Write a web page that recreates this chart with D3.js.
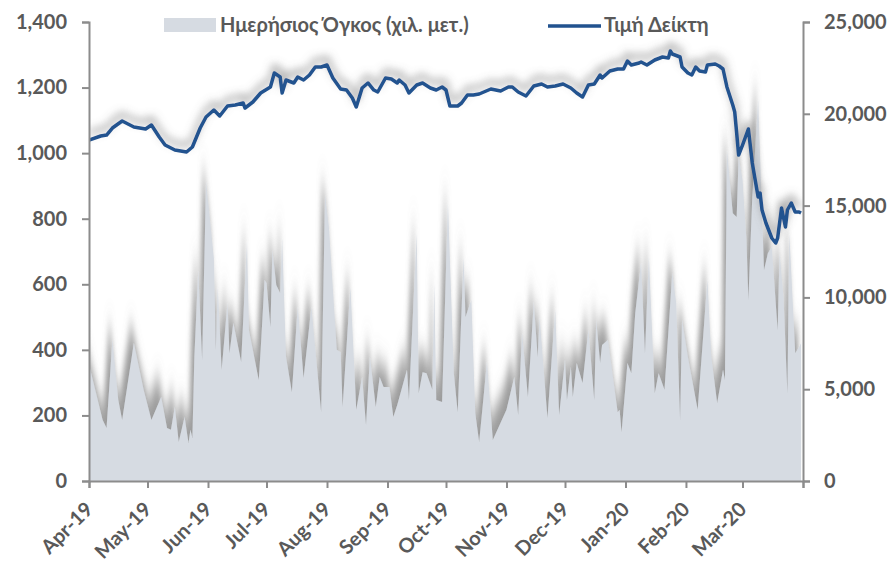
<!DOCTYPE html>
<html><head><meta charset="utf-8">
<script src="https://cdnjs.cloudflare.com/ajax/libs/d3/7.8.5/d3.min.js"></script>
<style>
html,body{margin:0;padding:0;background:#fff;}
svg{display:block;font-family:Lato,"Open Sans",sans-serif;}
</style></head><body>
<svg id="chart" width="892" height="564"></svg>
<script>
// ---- data ----
const seriesNames = ["Ημερήσιος Όγκος (χιλ. μετ.)", "Τιμή Δείκτη"];
const monthTicks = ["2019-04-01","2019-05-01","2019-06-01","2019-07-01","2019-08-01","2019-09-01","2019-10-01","2019-11-01","2019-12-01","2020-01-01","2020-02-01","2020-03-01","2020-04-01"];
const leftTicks = [0,200,400,600,800,1000,1200,1400];
const rightTicks = [0,5000,10000,15000,20000,25000];

const indexDates = ["2019-04-01","2019-04-07","2019-04-10","2019-04-13","2019-04-18","2019-04-24","2019-04-30","2019-05-03","2019-05-07","2019-05-10","2019-05-15","2019-05-21","2019-05-24","2019-05-28","2019-05-31","2019-06-04","2019-06-07","2019-06-11","2019-06-15","2019-06-19","2019-06-20","2019-06-24","2019-06-28","2019-07-03","2019-07-05","2019-07-08","2019-07-09","2019-07-11","2019-07-15","2019-07-17","2019-07-20","2019-07-23","2019-07-26","2019-07-29","2019-08-01","2019-08-04","2019-08-08","2019-08-11","2019-08-14","2019-08-16","2019-08-19","2019-08-22","2019-08-25","2019-08-27","2019-08-31","2019-09-03","2019-09-06","2019-09-07","2019-09-10","2019-09-12","2019-09-16","2019-09-19","2019-09-23","2019-09-26","2019-09-29","2019-10-01","2019-10-03","2019-10-07","2019-10-09","2019-10-12","2019-10-15","2019-10-18","2019-10-24","2019-10-29","2019-11-02","2019-11-04","2019-11-07","2019-11-11","2019-11-15","2019-11-19","2019-11-22","2019-11-26","2019-11-30","2019-12-04","2019-12-07","2019-12-10","2019-12-13","2019-12-16","2019-12-19","2019-12-20","2019-12-24","2019-12-28","2019-12-31","2020-01-02","2020-01-04","2020-01-08","2020-01-09","2020-01-12","2020-01-16","2020-01-20","2020-01-23","2020-01-24","2020-01-25","2020-01-29","2020-01-30","2020-02-02","2020-02-04","2020-02-06","2020-02-08","2020-02-11","2020-02-12","2020-02-16","2020-02-18","2020-02-20","2020-02-22","2020-02-25","2020-02-26","2020-02-27","2020-02-28","2020-03-01","2020-03-04","2020-03-06","2020-03-09","2020-03-10","2020-03-11","2020-03-13","2020-03-16","2020-03-18","2020-03-19","2020-03-21","2020-03-23","2020-03-24","2020-03-26","2020-03-28","2020-03-30","2020-03-31"];
const indexValues = [18570,18790,18845,19226,19608,19281,19172,19390,18736,18300,18028,17919,18192,19226,19826,20207,19880,20425,20479,20588,20316,20643,21133,21460,22222,22004,21133,21841,21678,22004,21841,22113,22549,22549,22658,21950,21350,21296,20860,20370,21405,21678,21296,21187,21950,21895,21678,21841,21569,21133,21569,21678,21405,21296,21460,21296,20425,20425,20588,21024,21024,21078,21350,21242,21460,21460,21187,20970,21514,21623,21460,21514,21623,21405,21133,20915,21569,21623,22113,21950,22331,22440,22440,22876,22658,22767,22821,22658,22930,23094,23039,23420,23257,23094,22549,22222,22113,22549,22331,22277,22658,22712,22603,22440,21460,20479,20098,18954,17756,18300,19172,17320,15468,15686,14760,14052,13235,12963,13235,14869,13834,14760,15142,14651,14651,14597];

const volumeDates = ["2019-04-01","2019-04-08","2019-04-10","2019-04-13","2019-04-16","2019-04-18","2019-04-24","2019-04-29","2019-05-03","2019-05-08","2019-05-11","2019-05-13","2019-05-15","2019-05-17","2019-05-20","2019-05-22","2019-05-23","2019-05-24","2019-05-25","2019-05-27","2019-05-29","2019-05-31","2019-06-04","2019-06-05","2019-06-06","2019-06-08","2019-06-11","2019-06-12","2019-06-14","2019-06-18","2019-06-21","2019-06-22","2019-06-27","2019-06-28","2019-06-30","2019-07-01","2019-07-03","2019-07-04","2019-07-06","2019-07-08","2019-07-09","2019-07-11","2019-07-14","2019-07-17","2019-07-20","2019-07-24","2019-07-29","2019-07-31","2019-08-02","2019-08-06","2019-08-08","2019-08-09","2019-08-13","2019-08-16","2019-08-19","2019-08-21","2019-08-23","2019-08-26","2019-08-28","2019-08-30","2019-09-02","2019-09-04","2019-09-06","2019-09-11","2019-09-12","2019-09-16","2019-09-17","2019-09-19","2019-09-21","2019-09-24","2019-09-25","2019-09-26","2019-09-29","2019-10-02","2019-10-05","2019-10-07","2019-10-10","2019-10-11","2019-10-14","2019-10-16","2019-10-18","2019-10-22","2019-10-25","2019-11-01","2019-11-05","2019-11-07","2019-11-09","2019-11-12","2019-11-15","2019-11-17","2019-11-18","2019-11-22","2019-11-26","2019-11-28","2019-12-01","2019-12-02","2019-12-04","2019-12-05","2019-12-07","2019-12-10","2019-12-13","2019-12-16","2019-12-17","2019-12-19","2019-12-20","2019-12-23","2019-12-28","2019-12-29","2019-12-30","2020-01-02","2020-01-04","2020-01-06","2020-01-09","2020-01-11","2020-01-13","2020-01-16","2020-01-18","2020-01-21","2020-01-25","2020-01-27","2020-01-29","2020-01-30","2020-02-02","2020-02-07","2020-02-12","2020-02-14","2020-02-17","2020-02-20","2020-02-21","2020-02-22","2020-02-25","2020-02-27","2020-02-28","2020-03-01","2020-03-03","2020-03-04","2020-03-06","2020-03-09","2020-03-11","2020-03-12","2020-03-14","2020-03-16","2020-03-19","2020-03-20","2020-03-22","2020-03-24","2020-03-25","2020-03-28","2020-03-30","2020-03-31"];
const volumeValues = [355,186,162,430,247,186,421,278,186,256,162,156,226,119,195,116,156,131,378,643,369,912,680,400,592,339,543,390,482,363,729,460,308,400,613,604,470,704,598,573,741,378,271,531,314,531,210,872,772,400,393,226,592,217,317,171,378,226,317,287,287,195,232,339,247,756,268,332,329,278,604,247,241,848,329,210,683,500,552,207,119,363,125,217,317,201,451,256,546,378,497,192,521,201,369,247,348,256,360,299,460,247,491,360,415,430,210,217,149,360,329,512,665,390,683,268,329,278,634,543,186,491,378,217,613,378,238,339,308,1009,817,805,988,918,735,552,866,1162,817,643,695,714,460,695,561,268,756,390,409,421];

// ---- chart ----
const W = 892, H = 564;
const m = {left: 89, right: 89, top: 22, bottom: 83};
const svg = d3.select("#chart");
const parse = d3.timeParse("%Y-%m-%d");

const x = d3.scaleTime().domain([parse(monthTicks[0]), parse(monthTicks[monthTicks.length-1])]).range([m.left, W - m.right]);
const yL = d3.scaleLinear().domain([0, 1400]).range([H - m.bottom, m.top]);
const yR = d3.scaleLinear().domain([0, 25000]).range([H - m.bottom, m.top]);

const defs = svg.append("defs");
const fa = defs.append("filter").attr("id","areaShadow").attr("x","-5%").attr("y","-40%").attr("width","110%").attr("height","150%");
fa.append("feGaussianBlur").attr("in","SourceAlpha").attr("stdDeviation","2.5 12").attr("result","b");
fa.append("feOffset").attr("in","b").attr("dx",-3).attr("dy",-20).attr("result","o");
fa.append("feFlood").attr("flood-color","#7a7a7a").attr("flood-opacity",0.75);
fa.append("feComposite").attr("in2","o").attr("operator","in").attr("result","s");
const fam = fa.append("feMerge"); fam.append("feMergeNode").attr("in","s"); fam.append("feMergeNode").attr("in","SourceGraphic");

const fl = defs.append("filter").attr("id","lineShadow").attr("x","-5%").attr("y","-30%").attr("width","110%").attr("height","160%");
fl.append("feGaussianBlur").attr("in","SourceAlpha").attr("stdDeviation","4").attr("result","b");
fl.append("feOffset").attr("in","b").attr("dx",0).attr("dy",-7).attr("result","o");
fl.append("feFlood").attr("flood-color","#707070").attr("flood-opacity",0.75);
fl.append("feComposite").attr("in2","o").attr("operator","in").attr("result","s");
const flm = fl.append("feMerge"); flm.append("feMergeNode").attr("in","s"); flm.append("feMergeNode").attr("in","SourceGraphic");

defs.append("clipPath").attr("id","plotClip").append("rect")
  .attr("x", m.left).attr("y", 0).attr("width", W - m.left - m.right).attr("height", H - m.bottom);

const vol = volumeDates.map((d,i)=>({d:parse(d), v:volumeValues[i]}));
const idx = indexDates.map((d,i)=>({d:parse(d), v:indexValues[i]}));

const g = svg.append("g").attr("clip-path","url(#plotClip)");
g.append("path").datum(vol)
  .attr("d", d3.area().x(d=>x(d.d)).y0(yL(0)).y1(d=>yL(d.v)))
  .attr("fill","#d6dbe2").attr("filter","url(#areaShadow)");

g.append("path").datum(idx)
  .attr("d", d3.line().x(d=>x(d.d)).y(d=>yR(d.v)))
  .attr("fill","none").attr("stroke","#21528f").attr("stroke-width",3.5)
  .attr("stroke-linejoin","round").attr("filter","url(#lineShadow)");

const axisColor = "#8c8c8c", textColor = "#595959";
function styleAxis(sel){
  sel.select(".domain").attr("stroke",axisColor).attr("stroke-width",2);
  sel.selectAll(".tick line").attr("stroke",axisColor).attr("stroke-width",2);
  sel.selectAll(".tick text").attr("fill",textColor).attr("font-size","20px").attr("font-weight","bold").attr("font-family","Lato, 'Open Sans', sans-serif");
}

const axL = svg.append("g").attr("transform",`translate(${m.left},0)`)
  .call(d3.axisLeft(yL).tickValues(leftTicks).tickFormat(d3.format(",")).tickSizeOuter(0).tickSize(7).tickPadding(15));
styleAxis(axL);

const axR = svg.append("g").attr("transform",`translate(${W-m.right},0)`)
  .call(d3.axisRight(yR).tickValues(rightTicks).tickFormat(d3.format(",")).tickSizeOuter(0).tickSize(7).tickPadding(14));
styleAxis(axR);

const fmt = d3.timeFormat("%b-%y");
const axB = svg.append("g").attr("transform",`translate(0,${H-m.bottom})`)
  .call(d3.axisBottom(x).tickValues(monthTicks.map(parse)).tickFormat((d,i)=> i < monthTicks.length-1 ? fmt(d) : "").tickSizeOuter(0).tickSize(7));
styleAxis(axB);
axB.selectAll(".tick text").attr("text-anchor","end").attr("dy",null).attr("y",null)
  .attr("transform","translate(1,26) rotate(-45)").attr("dominant-baseline","middle");

// legend
const lg = svg.append("g");
lg.append("rect").attr("x",164).attr("y",18).attr("width",52).attr("height",14).attr("fill","#d6dbe2");
lg.append("text").attr("x",220).attr("y",32).text(seriesNames[0])
  .attr("fill",textColor).attr("font-size","20px").attr("font-weight","bold");
lg.append("line").attr("x1",548).attr("x2",601).attr("y1",26).attr("y2",26).attr("stroke","#21528f").attr("stroke-width",3.5);
lg.append("text").attr("x",604).attr("y",32).text(seriesNames[1])
  .attr("fill",textColor).attr("font-size","20px").attr("font-weight","bold");
</script>
</body></html>
